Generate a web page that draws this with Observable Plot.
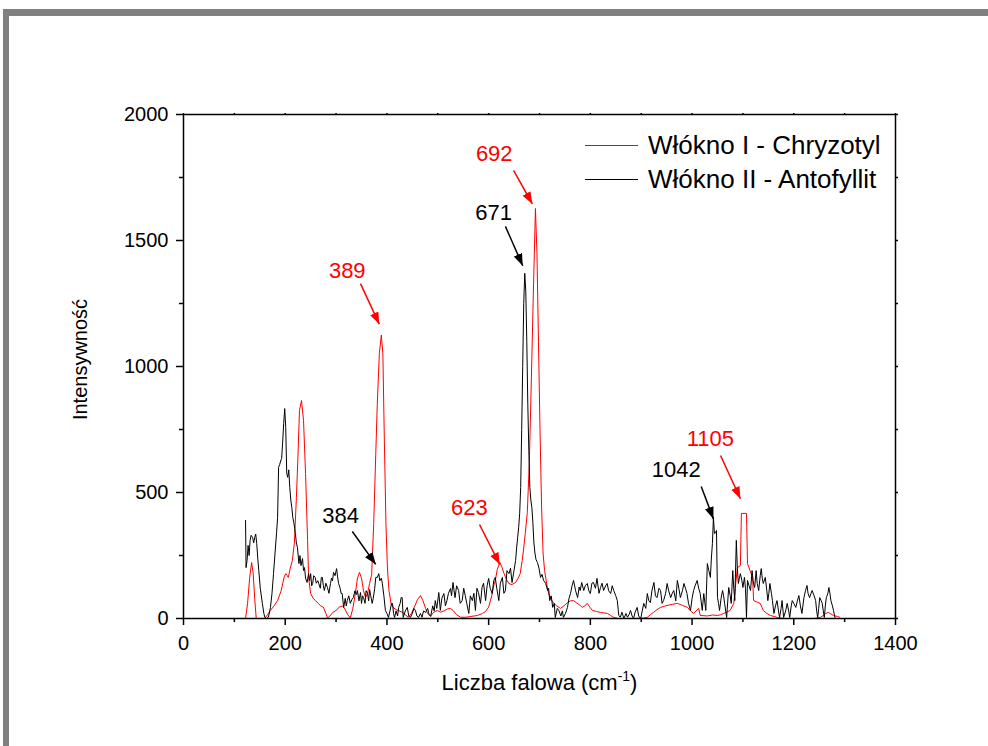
<!DOCTYPE html>
<html>
<head>
<meta charset="utf-8">
<script src="https://cdn.jsdelivr.net/npm/d3@7"></script>
<script src="https://cdn.jsdelivr.net/npm/@observablehq/plot@0.6"></script>
<style>
  html, body { margin: 0; padding: 0; background: #fff; }
  #wrap { position: relative; width: 988px; height: 746px; overflow: hidden; font-family: "Liberation Sans", Arial, sans-serif; }
  #frame { position: absolute; left: 3px; top: 9px; width: 990px; height: 745px; border-top: 7px solid #808080; border-left: 6px solid #808080; box-sizing: border-box; }
  #chart { position: absolute; left: 0; top: 0; }
  #legend { position: absolute; left: 585px; top: 128px; font-size: 26px; color: #000; line-height: 34px; }
  #legend .row { display: flex; align-items: center; white-space: nowrap; }
  #legend .sw { display: inline-block; width: 53px; height: 1px; margin-right: 10px; }
</style>
</head>
<body>
<div id="wrap">
  <div id="frame"></div>
  <div id="chart"></div>
  <div id="legend"></div>
</div>
<script>
// ---- Data ----
const seriesNames = ["Włókno I - Chryzotyl", "Włókno II - Antofyllit"];
const seriesColors = ["#ff0000", "#000000"];

const redX = [122,126,130,134,137,140,143,150,160,165,171,178,185,192,198,201,204,206,210,214,218,222,225,228,232,236,240,244,246,250,255,260,265,270,275,280,283,288,294,299,306,313,318,323,328,333,338,342,346,350,354,358,362,366,370,374,378,381,385,389,392,395,398,401,404,408,412,418,424,430,436,442,448,455,460,466,471,476,480,486,492,499,505,512,519,525,531,537,545,555,565,578,588,594,600,606,610,613,617,622,626,630,635,640,646,653,658,662,666,669,672,676,680,684,688,692,695,698,701,704,707,710,714,718,723,728,734,741,748,755,761,767,773,780,784,789,794,799,804,812,820,827,834,840,846,855,870,890,905,912,918,924,931,938,945,951,961,971,981,991,997,1003,1008,1013,1016,1030,1040,1050,1056,1062,1068,1075,1082,1089,1095,1097,1107,1109,1114,1119,1121,1128,1134,1140,1147,1154,1161,1168,1180,1200,1220,1240,1252,1258,1263,1268,1273,1278,1286,1290];
const redY = [0,60,160,222,180,80,0,0,0,15,32,50,71,110,165,178,170,163,200,230,300,480,640,825,865,786,575,310,163,99,80,70,60,50,45,20,2,10,25,30,45,50,35,15,2,40,100,160,183,160,110,83,100,140,175,377,650,850,1050,1125,1050,700,380,200,111,60,44,35,30,25,15,5,20,50,75,91,70,40,20,10,25,32,25,30,38,40,30,15,5,5,8,12,20,28,45,90,130,150,195,222,205,180,155,138,135,143,160,178,230,280,337,420,620,950,1300,1627,1450,1100,750,450,260,190,140,99,75,60,50,40,50,63,70,71,62,52,44,50,60,45,32,28,24,22,20,12,4,0,0,0,2,5,15,24,35,44,48,52,56,60,52,44,30,20,30,40,12,10,14,12,15,20,25,32,60,202,210,417,417,218,190,163,71,65,60,32,20,12,8,4,0,0,0,0,4,12,20,24,18,12,8,5];

const blackX = [122,123,125,127,129,131,133,136,138,140,142,144,146,148,151,155,158,160,163,167,171,174,177,180,183,185,187,189,191,193,195,197,199,201,203,205,207,209,211,213,215,217,220,222,224,227,229,231,234,236,238,240,243,246,248,250,252,254,256,259,261,264,266,269,271,273,275,277,280,283,286,289,291,293,295,298,301,303,305,308,310,312,315,318,320,322,325,328,331,334,337,340,342,345,348,350,352,354,357,359,362,364,366,368,371,373,376,378,381,384,386,389,391,394,397,400,403,406,409,411,413,415,418,421,423,426,428,430,432,436,440,443,446,450,453,456,459,462,466,469,472,476,480,483,486,490,493,495,498,502,505,508,512,515,518,521,525,527,530,532,534,537,541,544,548,551,554,557,561,564,568,571,574,577,580,584,587,590,594,597,600,603,607,610,613,616,620,623,627,630,633,636,640,643,646,649,653,655,657,659,661,663,665,667,669,671,673,675,677,679,681,683,685,687,689,691,693,696,699,702,705,708,712,716,718,720,723,726,729,731,735,738,742,745,747,751,755,758,761,764,767,771,775,778,780,783,787,790,794,797,800,803,806,810,813,817,820,823,826,830,833,836,840,843,846,850,853,855,856,859,862,866,870,873,876,879,882,885,888,892,895,899,902,905,909,912,915,918,921,925,928,931,935,938,941,944,948,951,954,958,961,964,968,971,974,977,981,984,987,990,993,997,1000,1003,1006,1010,1013,1016,1020,1023,1027,1030,1033,1036,1038,1040,1042,1044,1046,1048,1050,1052,1054,1057,1060,1062,1064,1068,1072,1075,1077,1080,1082,1084,1087,1089,1091,1093,1095,1098,1100,1103,1105,1107,1109,1112,1115,1118,1120,1123,1126,1128,1131,1134,1136,1138,1140,1144,1147,1149,1151,1153,1156,1158,1161,1164,1167,1170,1172,1175,1177,1180,1184,1187,1190,1192,1195,1197,1200,1204,1207,1210,1213,1216,1220,1223,1226,1228,1231,1234,1236,1240,1243,1245,1247,1249,1251,1254,1256,1258,1260,1262,1264,1267,1269,1271,1273,1276,1278,1281];
const blackY = [389,202,230,290,250,310,330,321,300,321,335,298,240,190,120,60,20,4,0,5,44,100,178,260,340,400,600,610,625,635,700,774,833,758,575,560,590,520,470,440,400,380,337,300,282,218,250,210,238,190,202,160,143,178,150,178,130,139,170,163,140,150,139,120,163,163,130,111,140,123,100,139,160,150,183,170,198,165,139,120,99,99,44,80,50,71,90,60,75,83,110,95,111,70,103,60,90,83,60,110,99,70,115,91,60,79,120,163,163,178,150,160,139,90,32,20,4,30,60,60,20,4,30,10,44,60,83,83,4,30,44,10,4,20,40,32,10,4,20,5,30,24,40,15,8,50,30,71,40,103,32,80,99,50,71,100,119,90,143,110,83,130,111,60,71,120,91,60,20,90,71,100,32,120,103,60,123,140,71,130,159,120,99,150,163,120,71,140,163,100,111,190,178,200,143,180,230,280,321,360,417,520,750,1000,1250,1370,1300,1100,850,667,520,470,440,380,300,260,235,222,200,163,175,151,140,111,120,71,90,44,60,4,40,32,10,30,4,20,44,80,99,130,151,110,83,125,111,143,111,130,139,110,99,140,143,120,159,100,123,140,111,130,139,110,99,130,111,90,71,30,12,5,25,0,20,5,15,32,10,0,25,44,10,0,30,60,40,99,70,63,110,143,90,83,120,111,60,71,100,139,110,83,100,111,70,151,120,83,110,139,120,99,60,32,80,111,130,151,120,99,32,99,32,218,190,163,240,298,400,337,340,349,83,60,32,80,111,90,60,4,123,90,60,190,120,71,310,200,139,160,178,150,123,163,120,4,151,130,111,190,150,123,190,140,111,170,198,160,139,163,110,71,100,139,100,71,20,50,71,30,4,40,71,4,30,60,30,4,50,71,60,44,70,91,50,20,83,110,131,100,83,100,111,90,71,30,4,40,83,70,60,30,4,50,83,100,123,100,71,50,32,4];

const xMajor = [0,200,400,600,800,1000,1200,1400];
const xMinor = [100,300,500,700,900,1100,1300];
const yMajor = [0,500,1000,1500,2000];
const yMinor = [250,750,1250,1750];
const yAll = [0,250,500,750,1000,1250,1500,1750,2000];
const xAll = [0,100,200,300,400,500,600,700,800,900,1000,1100,1200,1300,1400];

// peak annotations
const annLabel = ["389","692","671","384","623","1042","1105"];
const annColor = ["#ff0000","#ff0000","#000000","#000000","#ff0000","#000000","#ff0000"];
const annTextX = [322,611,610,309,562,969,1036];
const annTextY = [1381,1845,1611,405,437,591,714];
const arrX1 = [348,649,633,332,582,1018,1056];
const arrY1 = [1329,1778,1556,345,373,524,647];
const arrX2 = [385,686,667,378,622,1042,1095];
const arrY2 = [1168,1645,1400,215,214,395,475];

const xTitle = "Liczba falowa (cm-1)";
const yTitle = "Intensywność";

// ---- Build tables ----
const red = redX.map((x, i) => ({x, y: redY[i]}));
const black = blackX.map((x, i) => ({x, y: blackY[i]}));
const ann = annLabel.map((t, i) => ({t, c: annColor[i], x: annTextX[i], y: annTextY[i], x1: arrX1[i], y1: arrY1[i], x2: arrX2[i], y2: arrY2[i]}));

const fmt = d => String(d);

const chart = Plot.plot({
  width: 988,
  height: 746,
  marginLeft: 183,
  marginRight: 93,
  marginTop: 114,
  marginBottom: 128,
  x: {domain: [0, 1400]},
  y: {domain: [0, 2000]},
  style: {fontFamily: "'Liberation Sans', Arial, sans-serif", fontSize: "20px", color: "#000", background: "transparent"},
  marks: [
    Plot.line(red, {x: "x", y: "y", stroke: seriesColors[0], strokeWidth: 1}),
    Plot.line(black, {x: "x", y: "y", stroke: seriesColors[1], strokeWidth: 1}),
    Plot.frame({stroke: "#000", strokeWidth: 1.5}),
    Plot.axisX(xMajor, {anchor: "bottom", tickSize: 7, tickPadding: 10, strokeWidth: 1.5, label: null, fontSize: 20, tickFormat: fmt}),
    Plot.axisX(xMinor, {anchor: "bottom", tickSize: 4, strokeWidth: 1.5, tickFormat: () => "", label: null}),
    Plot.axisX(xAll, {anchor: "top", tickSize: 2, strokeWidth: 1.5, tickFormat: () => "", label: null}),
    Plot.axisY(yMajor, {anchor: "left", tickSize: 7, tickPadding: 8, strokeWidth: 1.5, label: null, fontSize: 20, tickFormat: fmt}),
    Plot.axisY(yMinor, {anchor: "left", tickSize: 4, strokeWidth: 1.5, tickFormat: () => "", label: null}),
    Plot.axisY(yAll, {anchor: "right", tickSize: 2, strokeWidth: 1.5, tickFormat: () => "", label: null}),
    Plot.text([xTitle], {frameAnchor: "bottom", textAnchor: "middle", dy: 71, fontSize: 22, fill: "#000"}),
    Plot.text([yTitle], {frameAnchor: "left", textAnchor: "middle", dx: -103, dy: -7, rotate: -90, fontSize: 20, fill: "#000"}),
    Plot.link(ann, {x1: "x1", y1: "y1", x2: "x2", y2: "y2", stroke: "c", strokeWidth: 1.5}),
    Plot.text(ann, {x: "x", y: "y", text: "t", fill: "c", fontSize: 22})
  ]
});

document.getElementById("chart").appendChild(chart);

// filled arrowheads for annotation links
const svg = d3.select(chart);
const defs = svg.append("defs");
const mk = {};
["#ff0000", "#000000"].forEach((c, i) => {
  const id = "ah" + i;
  mk[c] = id;
  defs.append("marker").attr("id", id).attr("viewBox", "0 -5 12 10").attr("refX", 12).attr("refY", 0)
    .attr("markerWidth", 12).attr("markerHeight", 10).attr("markerUnits", "userSpaceOnUse").attr("orient", "auto")
    .append("path").attr("d", "M0,-4.5L12,0L0,4.5Z").attr("fill", c);
});
svg.selectAll('g[aria-label="link"] path').each(function() {
  const c = (this.getAttribute("stroke") || "#000000").toLowerCase();
  this.setAttribute("marker-end", "url(#" + (mk[c] || "ah1") + ")");
});

// superscript in x title
svg.selectAll("text").each(function() {
  if (this.textContent === xTitle) {
    const t = d3.select(this);
    t.text(null);
    t.append("tspan").text("Liczba falowa (cm");
    t.append("tspan").attr("font-size", 14).attr("dy", -9).text("-1");
    t.append("tspan").attr("dy", 9).text(")");
  }
});

// legend
const leg = d3.select("#legend");
seriesNames.forEach((n, i) => {
  const row = leg.append("div").attr("class", "row");
  row.append("span").attr("class", "sw").style("background", seriesColors[i]);
  row.append("span").text(n);
});
</script>
</body>
</html>
